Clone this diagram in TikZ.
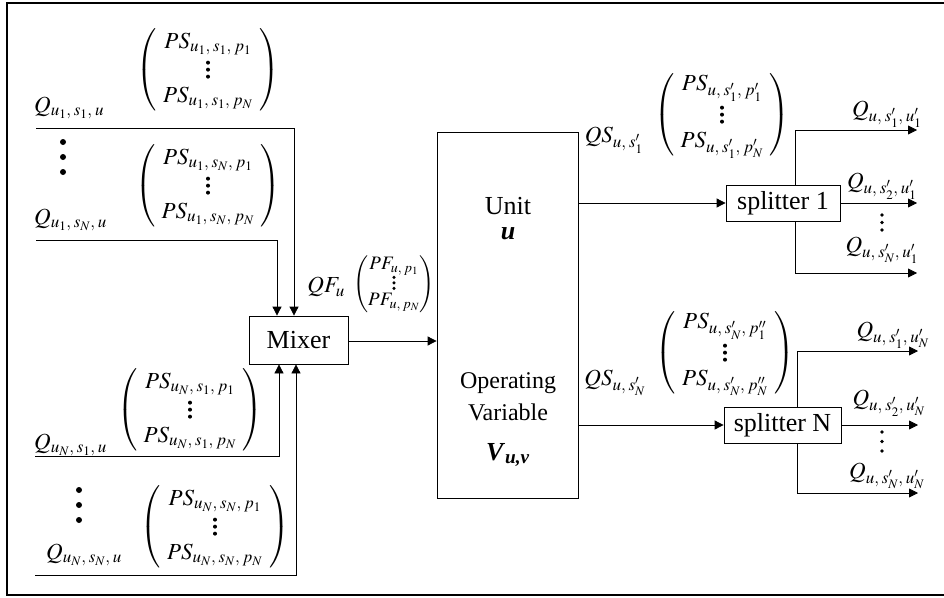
\documentclass[tikz,border=0pt]{standalone}
\usepackage{amsmath}
\usepackage{mathptmx}
\usepackage{fontspec}
\setmainfont{Liberation Serif}
\usetikzlibrary{arrows.meta}
\DeclareMathSizes{23}{23}{17}{13}
\DeclareMathSizes{19}{19}{14}{11}
\newcommand{\sep}{,\mkern3mu}
\newcommand{\mydots}{\vcenter{\hbox{\tikz{\fill (0,0) circle (2pt) (0,7pt) circle (2pt) (0,14pt) circle (2pt);}}}}
\newcommand{\smdots}{\vcenter{\hbox{\tikz{\fill (0,0) circle (1.7pt) (0,5.5pt) circle (1.7pt) (0,11pt) circle (1.7pt);}}}}
\newcommand{\pmat}[2]{\left(\mkern1mu\begin{array}{c}#1\\\mydots\\#2\end{array}\mkern1mu\right)}
\begin{document}
\begin{tikzpicture}[x=1pt,y=-1pt,
  box/.style={draw,line width=0.8pt,inner sep=0pt,font=\fontsize{26}{30}\selectfont},
  arr/.style={line width=0.8pt,-{Triangle[length=9pt,width=9pt]}},
  lab/.style={inner sep=0pt,font=\fontsize{23}{27}\selectfont},
  big/.style={inner sep=0pt,font=\fontsize{26}{30}\selectfont},
]
\useasboundingbox (0,0) rectangle (944,597);
\draw[line width=2.5pt] (946,3) -- (7,3) -- (7,595) -- (946,595);

% main boxes
\node[box,minimum width=99pt,minimum height=48pt] (mixer) at (298.5,340) {Mixer};
\node[draw,line width=0.8pt,minimum width=141pt,minimum height=366pt] (unit) at (507.5,315) {};
\node[box,minimum width=114pt,minimum height=36pt] (sp1) at (783,203) {splitter 1};
\node[box,minimum width=117pt,minimum height=36pt] (spN) at (782.5,425) {splitter N};

% unit texts
\node[big] (unitlbl) at (508,206) {Unit};
\node[big] (ulbl) at (508,234) {\textbf{\textit{u}}};
\node[big,font=\fontsize{24}{28}\selectfont] (op) at (508,383) {Operating};
\node[big,font=\fontsize{24}{28}\selectfont] (var) at (508,412) {Variable};
\node[big] (vuv) at (508,455) {$\textbf{\textit{V}}_{\textbf{\textit{u,v}}}$};

% left labels
\def\arraystretch{1.0}
\node[lab,anchor=west] (q1) at (34,108) {$Q_{u_1\sep s_1\sep u}$};
\node[lab] (m1) at (208,70) {$\pmat{PS_{u_1\sep s_1\sep p_1}}{PS_{u_1\sep s_1\sep p_N}}$};
\node[lab,anchor=west] (q2) at (34,220) {$Q_{u_1\sep s_N\sep u}$};
\node[lab] (m2) at (208,186) {$\pmat{PS_{u_1\sep s_N\sep p_1}}{PS_{u_1\sep s_N\sep p_N}}$};
\node[lab,anchor=west] (q3) at (34,445) {$Q_{u_N\sep s_1\sep u}$};
\node[lab] (m3) at (190,410) {$\pmat{PS_{u_N\sep s_1\sep p_1}}{PS_{u_N\sep s_1\sep p_N}}$};
\node[lab,anchor=west] (q4) at (46,555) {$Q_{u_N\sep s_N\sep u}$};
\node[lab] (m4) at (215,527) {$\pmat{PS_{u_N\sep s_N\sep p_1}}{PS_{u_N\sep s_N\sep p_N}}$};

\fill (63,142) circle (3pt) (63,157) circle (3pt) (63,172) circle (3pt);
\fill (79,490) circle (3pt) (79,505) circle (3pt) (79,520) circle (3pt);

% QF
\node[lab,anchor=east] (qf) at (345,287) {$QF_u$};
\node[lab,font=\fontsize{19}{21}\selectfont] (mf) at (394,284) {$\renewcommand{\arraystretch}{0.85}\left(\begin{array}{@{}c@{}}PF_{u\sep p_1}\\\smdots\\PF_{u\sep p_N}\end{array}\right)$};

% QS
\node[lab] (qs1) at (614,140) {$QS_{u\sep s'_1}$};
\node[lab] (ms1) at (722,115) {$\pmat{PS_{u\sep s'_1\sep p'_1}}{PS_{u\sep s'_1\sep p'_N}}$};
\node[lab] (qsN) at (615,383) {$QS_{u\sep s'_N}$};
\node[lab] (msN) at (725,353) {$\pmat{PS_{u\sep s'_N\sep p''_1}}{PS_{u\sep s'_N\sep p''_N}}$};

% right labels
\node[lab] (r11) at (887,114) {$Q_{u\sep s'_1\sep u'_1}$};
\node[lab] (r12) at (882,186) {$Q_{u\sep s'_2\sep u'_1}$};
\node[lab] (r13) at (882,250) {$Q_{u\sep s'_N\sep u'_1}$};
\node[lab] (r21) at (893,335) {$Q_{u\sep s'_1\sep u'_N}$};
\node[lab] (r22) at (889,403) {$Q_{u\sep s'_2\sep u'_N}$};
\node[lab] (r23) at (887,476) {$Q_{u\sep s'_N\sep u'_N}$};
\fill (882,215) circle (1.8pt) (882,222.5) circle (1.8pt) (882,230) circle (1.8pt);
\fill (882,432) circle (1.8pt) (882,441.5) circle (1.8pt) (882,451) circle (1.8pt);

% connectors
\coordinate (i1) at (36,128);
\coordinate (i2) at (36,240);
\coordinate (i3) at (35,456);
\coordinate (i4) at (35,575);
\draw[arr] (i1) -| ([xshift=-4.5pt]mixer.north);
\draw[arr] (i2) -| ([xshift=-21.5pt]mixer.north);
\draw[arr] (i3) -| ([xshift=-19.5pt]mixer.south);
\draw[arr] (i4) -| ([xshift=-2.5pt]mixer.south);
\draw[arr] ([yshift=-1pt]mixer.east) -- ([yshift=-1pt]mixer.east -| unit.west);
\draw[arr] (unit.east |- sp1.west) -- (sp1.west);
\draw[arr] (unit.east |- spN.west) -- (spN.west);

\coordinate (o11) at (917,130);
\coordinate (o12) at (917,203);
\coordinate (o13) at (917,273);
\coordinate (o21) at (918,351);
\coordinate (o22) at (918,425);
\coordinate (o23) at (918,493);
\draw[arr] ([xshift=12pt]sp1.north) |- (o11);
\draw[arr] (sp1.east) -- (o12);
\draw[arr] ([xshift=12pt]sp1.south) |- (o13);
\draw[arr] ([xshift=14.5pt]spN.north) |- (o21);
\draw[arr] (spN.east) -- (o22);
\draw[arr] ([xshift=14.5pt]spN.south) |- (o23);
\end{tikzpicture}
\end{document}
